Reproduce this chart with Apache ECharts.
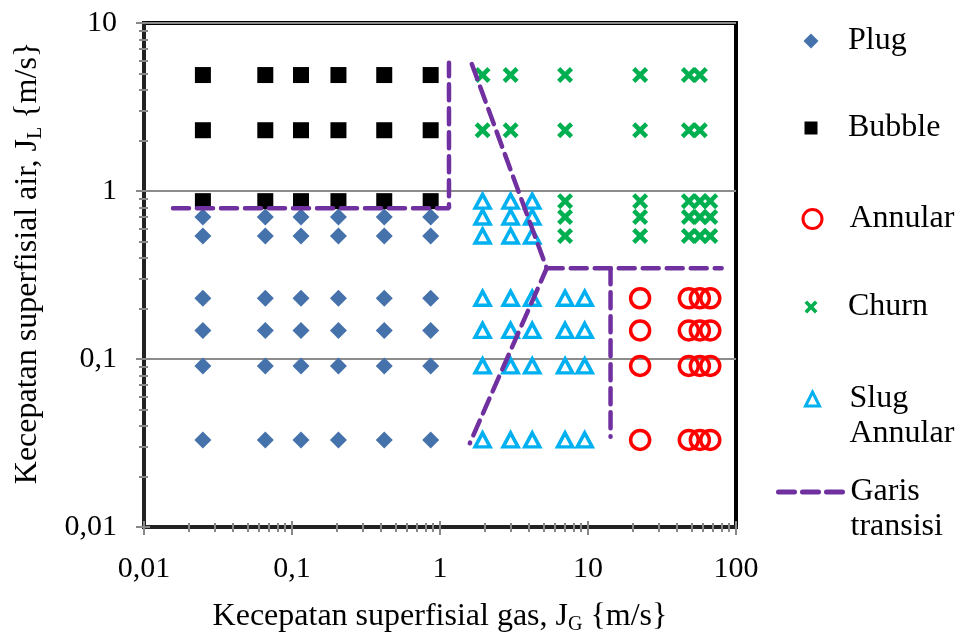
<!DOCTYPE html>
<html>
<head>
<meta charset="utf-8">
<script src="https://cdn.jsdelivr.net/npm/echarts@6/dist/echarts.min.js"></script>
<style>
  html, body { margin: 0; padding: 0; background: #fff; }
  #chart { width: 957px; height: 635px; }
</style>
</head>
<body>
<div id="chart"></div>
<script>
// values (m/s)
const jgLow = [0.025, 0.066, 0.115, 0.206, 0.42, 0.865]
const jlPlug = [0.7, 0.54, 0.23, 0.148, 0.091, 0.033]
const jlBubble = [4.9, 2.3, 0.87]

const jgSlugUpper = [1.94, 3.0, 4.2]
const jlSlugUpper = [0.87, 0.7, 0.54]
const jgSlugLower = [1.94, 3.0, 4.2, 7.0, 9.5]
const jlSlugLower = [0.23, 0.148, 0.091, 0.033]

const jgChurnTop = [1.94, 3.0, 7.0, 22.5, 48, 57]
const jlChurnTop = [4.9, 2.3]
const jgChurnMid = [7.0, 22.5, 48, 57, 67]
const jlChurnMid = [0.87, 0.7, 0.54]

const jgAnnular = [22.5, 48, 57, 67]
const jlAnnular = [0.23, 0.148, 0.091, 0.033]

// transition lines
const garis1 = [[0.0157, 0.79], [1.15, 0.79], [1.15, 5.8]]
const garis2 = [[1.64, 5.7], [5.26, 0.347], [1.59, 0.0315]]
const garis3 = [[5.26, 0.347], [80, 0.347]]
const garis4 = [[14.2, 0.347], [14.2, 0.0345]]

const xTicks = ['0,01', '0,1', '1', '10', '100']
const yTicks = ['0,01', '0,1', '1', '10']

function grid(xs, ys) {
  const pts = []
  ys.forEach(y => xs.forEach(x => pts.push([x, y])))
  return pts
}

const FONT = '"Liberation Serif", "Times New Roman", serif'
const PURPLE = '#7030A0'
const crossPath = 'path://M0,2 L2,0 L5,3 L8,0 L10,2 L7,5 L10,8 L8,10 L5,7 L2,10 L0,8 L3,5 Z'

function fmt(list) {
  return v => {
    const s = String(+(+v).toPrecision(6)).replace('.', ',')
    return list.includes(s) ? s : ''
  }
}

const chart = echarts.init(document.getElementById('chart'), null, { renderer: 'canvas' })

const baseX = {
  type: 'log', logBase: 10, min: 0.01, max: 100,
  position: 'bottom',
  splitLine: { show: false },
}
const baseY = {
  type: 'log', logBase: 10, min: 0.01, max: 10,
  position: 'left',
}

function lineSeries(data) {
  return {
    name: 'Garis transisi', type: 'line', data,
    symbol: 'none', z: 5,
    lineStyle: { color: PURPLE, width: 4.5, type: [16, 8], cap: 'round' },
    itemStyle: { color: PURPLE },
  }
}

// one legend per entry; icon centred at x=806, text starting at x=849
function legendAt(name, centerY, size, lines, extra) {
  const LH = 35
  const w = extra && extra.itemWidth ? extra.itemWidth : size
  const spacer = 849 - (806 - w / 2) - w - 11
  const label = lines.map(t => '{s| }' + t).join('\n')
  return Object.assign({
    data: [name],
    left: 806 - w / 2,
    top: centerY - (lines.length > 1 ? 1.5 : 0.5) * LH,
    itemWidth: size, itemHeight: size,
    formatter: () => (lines.length > 1 ? ' \n' : '') + label,
    textStyle: {
      fontFamily: FONT, fontSize: 32, lineHeight: LH, color: '#000',
      rich: { s: { width: spacer, fontSize: 32, lineHeight: LH } },
    },
    selectedMode: false,
  }, extra || {})
}

const nameStyle = {
  fontFamily: FONT, fontSize: 32, color: '#000',
  rich: { sub: { fontFamily: FONT, fontSize: 20, lineHeight: 20, padding: [15, 0, 0, 0], color: '#000' } },
}

chart.setOption({
  animation: false,
  backgroundColor: '#fff',
  grid: {
    left: 144, right: 221, top: 23, bottom: 108,
    outerBoundsMode: 'none',
    show: true, borderColor: '#000', borderWidth: 4,
  },
  xAxis: [
    Object.assign({}, baseX, {
      name: 'Kecepatan superfisial gas, J{sub|G} {m/s}',
      nameLocation: 'middle', nameGap: 74,
      nameTextStyle: nameStyle,
      axisLine: { lineStyle: { color: '#222', width: 4 } },
      axisTick: { show: true, inside: false, length: 8, lineStyle: { color: '#888', width: 2 } },
      minorTick: { show: true, splitNumber: 9, length: 5, lineStyle: { color: '#888', width: 2 } },
      axisLabel: { margin: 27, fontFamily: FONT, fontSize: 30, color: '#000', formatter: fmt(xTicks) },
    }),
    Object.assign({}, baseX, {
      axisLine: { show: false },
      axisTick: { show: true, inside: true, length: 6, lineStyle: { color: '#888', width: 2 } },
      minorTick: { show: true, splitNumber: 9, length: 4, lineStyle: { color: '#888', width: 2 } },
      axisLabel: { show: false },
    }),
  ],
  yAxis: [
    Object.assign({}, baseY, {
      name: 'Kecepatan superfisial air, J{sub|L} {m/s}',
      nameLocation: 'middle', nameGap: 100,
      nameTextStyle: Object.assign({}, nameStyle, { padding: [0, 0, 0, 24] }),
      axisLine: { lineStyle: { color: '#222', width: 4 } },
      axisTick: { show: true, inside: false, length: 8, lineStyle: { color: '#888', width: 2 } },
      minorTick: { show: true, splitNumber: 9, length: 5, lineStyle: { color: '#888', width: 2 } },
      splitLine: { show: true, lineStyle: { color: '#8c8c8c', width: 2 } },
      axisLabel: { margin: 27, fontFamily: FONT, fontSize: 30, color: '#000', formatter: fmt(yTicks) },
    }),
    Object.assign({}, baseY, {
      axisLine: { show: false },
      axisTick: { show: true, inside: true, length: 6, lineStyle: { color: '#888', width: 2 } },
      minorTick: { show: true, splitNumber: 9, length: 4, lineStyle: { color: '#888', width: 2 } },
      splitLine: { show: false },
      axisLabel: { show: false },
    }),
  ],
  legend: [
    legendAt('Plug', 36, 15, ['Plug']),
    legendAt('Bubble', 123, 13, ['Bubble']),
    legendAt('Annular', 214, 19, ['Annular'], { itemStyle: { borderWidth: 3 } }),
    legendAt('Churn', 302, 13, ['Churn']),
    legendAt('Slug Annular', 394, 14, ['Slug', 'Annular'], { itemStyle: { borderWidth: 3 } }),
    legendAt('Garis transisi', 487, 4, ['Garis', 'transisi'], {
      itemWidth: 70,
      itemStyle: { opacity: 0 },
      lineStyle: { color: PURPLE, width: 5, type: [16, 8], cap: 'round' },
    }),
  ],
  series: [
    {
      name: 'Plug', type: 'scatter', data: grid(jgLow, jlPlug),
      symbol: 'diamond', symbolSize: 17,
      itemStyle: { color: '#4672AB', opacity: 1 },
    },
    {
      name: 'Bubble', type: 'scatter', data: grid(jgLow, jlBubble),
      symbol: 'rect', symbolSize: 16,
      itemStyle: { color: '#000', opacity: 1 },
    },
    {
      name: 'Annular', type: 'scatter', data: grid(jgAnnular, jlAnnular),
      symbol: 'circle', symbolSize: 19,
      itemStyle: { color: 'rgba(0,0,0,0)', borderColor: '#FF0000', borderWidth: 3.5, opacity: 1 },
    },
    {
      name: 'Churn', type: 'scatter',
      data: grid(jgChurnTop, jlChurnTop).concat(grid(jgChurnMid, jlChurnMid)),
      symbol: crossPath, symbolSize: 16,
      itemStyle: { color: '#00B050', opacity: 1 },
    },
    {
      name: 'Slug Annular', type: 'scatter',
      data: grid(jgSlugUpper, jlSlugUpper).concat(grid(jgSlugLower, jlSlugLower)),
      symbol: 'triangle', symbolSize: [15, 14],
      itemStyle: { color: 'rgba(0,0,0,0)', borderColor: '#00B0F0', borderWidth: 3.5, opacity: 1 },
    },
    lineSeries(garis1),
    lineSeries(garis2),
    lineSeries(garis3),
    lineSeries(garis4),
  ],
})
</script>
</body>
</html>
